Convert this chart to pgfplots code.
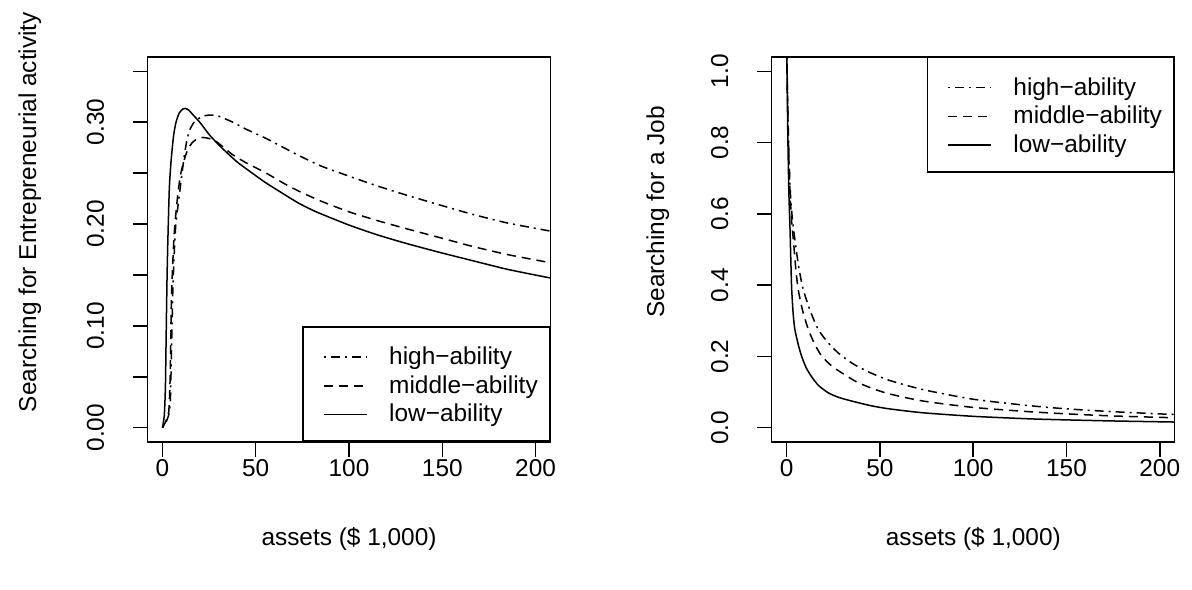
\documentclass[border=0pt]{standalone}
\usepackage{fontspec}
\setmainfont{Liberation Sans}
\usepackage{pgfplots}
\pgfplotsset{compat=1.18}
\newcommand{\rfont}{\fontsize{24.4bp}{29bp}\selectfont}

\pgfplotsset{
  rplot/.style={
    scale only axis, width=403bp, height=385bp,
    xmin=-8, xmax=208,
    axis line style={line width=1.5bp},
    tick align=outside, xtick pos=bottom, ytick pos=left,
    major tick length=14.6bp,
    tick style={black, line width=1.5bp},
    ticklabel style={font=\rfont, inner sep=0pt},
    xtick={0,50,100,150,200},
    xticklabels={0,50,100,150,200},
    xticklabel style={anchor=north},
    xticklabel shift=3bp,
    yticklabel style={rotate=90, anchor=base},
    yticklabel shift=29bp,
    legend style={draw=black, line width=1.5bp, fill=white,
      inner xsep=12bp, inner ysep=14bp, row sep=0pt, column sep=0pt,
      font=\rfont,
      nodes={inner sep=0pt, text height=23.3bp, text depth=5.4bp, anchor=base west}},
    legend cell align=left,
    legend image code/.code={
      \path[draw=none, fill=none] (0bp,0bp) rectangle (74bp,7.3bp);
      \draw[##1, line width=1.5bp] (9bp,7.3bp) -- (52bp,7.3bp);},
    every axis plot/.append style={smooth, tension=0.4},
  },
  lo/.style={black, line width=1.5bp, solid},
  mid/.style={black, line width=1.5bp, dash pattern=on 9bp off 6bp},
  hi/.style={black, line width=1.5bp, dash pattern=on 2bp off 5bp on 9bp off 5bp},
}

% left panel: entrepreneurial activity
\pgfplotstableread{
x y
0 0
1 0.012
1.6 0.04
2.0 0.09
2.5 0.15
3 0.19
3.7 0.235
4.6 0.261
6 0.287
7.3 0.300
9 0.309
11 0.313
12.2 0.3135
14 0.312
17 0.306
20 0.300
25 0.288
30 0.278
34 0.271
40 0.261
46.6 0.252
55 0.241
64.5 0.230
73 0.2205
82.4 0.212
100 0.199
115 0.1895
130.6 0.181
150 0.1715
166.3 0.164
185 0.1555
208 0.147
215 0.145
}\entlow
\pgfplotstableread{
x y
0 0
1.5 0.005
2.5 0.010
3.4 0.016
4.0 0.04
4.4 0.08
4.8 0.125
5.5 0.16
6.3 0.19
7.3 0.212
8.5 0.233
10 0.251
12 0.265
13.6 0.273
16 0.280
19 0.284
21.6 0.285
25 0.284
28.8 0.281
33 0.275
37.7 0.268
45 0.260
55.6 0.250
65 0.240
73.4 0.232
85 0.2225
100 0.212
115 0.2035
130.6 0.1955
150 0.186
166.3 0.178
185 0.170
208 0.162
215 0.160
}\entmid
\pgfplotstableread{
x y
0 0
1.5 0.004
2.5 0.008
3.7 0.015
4.3 0.03
4.8 0.07
5.5 0.13
6.3 0.17
7.2 0.20
9.1 0.229
10.5 0.25
11.8 0.268
13 0.281
14.5 0.292
17 0.300
19.8 0.304
22 0.306
25.2 0.307
30 0.306
37.7 0.300
45 0.293
55.6 0.284
65 0.275
73.4 0.267
85 0.257
100 0.247
115 0.2375
130.6 0.2285
150 0.218
166.3 0.2095
185 0.201
208 0.193
215 0.190
}\enthigh

% right panel: job search
\pgfplotstableread{
x y
0 1.1
0.3 0.95
0.7 0.80
1.2 0.66
1.8 0.56
2.3 0.46
2.7 0.39
3.5 0.32
4.4 0.276
6.2 0.234
8 0.201
10.5 0.168
13.4 0.143
17 0.119
22.3 0.098
28 0.085
34.8 0.075
45 0.062
55 0.053
73 0.042
100 0.032
130 0.025
150 0.022
175 0.019
208 0.016
215 0.0155
}\joblow
\pgfplotstableread{
x y
0 1.1
0.5 0.92
1.2 0.75
2.0 0.64
2.8 0.57
3.6 0.528
5 0.44
6.2 0.388
8.5 0.33
11.6 0.276
15 0.235
18.8 0.201
24 0.174
29.5 0.154
37 0.13
45 0.112
55 0.095
73 0.075
100 0.057
130 0.045
150 0.039
175 0.033
208 0.028
215 0.027
}\jobmid
\pgfplotstableread{
x y
0 1.1
0.5 0.93
1.2 0.77
2.0 0.66
3 0.59
4.4 0.528
6.5 0.45
8.9 0.388
12.5 0.33
16.9 0.276
22 0.24
27.6 0.21
36 0.178
45 0.154
55 0.133
73 0.107
100 0.080
130 0.062
150 0.053
175 0.045
208 0.037
215 0.036
}\jobhigh

\begin{document}
\begin{tikzpicture}
\path (0bp,0bp) rectangle (1192bp,590bp);

\begin{axis}[rplot, at={(147.5bp,148bp)}, anchor=south west,
    ymin=-0.014, ymax=0.364,
    ytick={0,0.05,0.10,0.15,0.20,0.25,0.30,0.35},
    yticklabels={0.00,,0.10,,0.20,,0.30,},
    legend style={at={(1,0)}, anchor=south east}]
  \addplot[hi] table[x=x,y=y] {\enthigh};
  \addplot[mid] table[x=x,y=y] {\entmid};
  \addplot[lo] table[x=x,y=y] {\entlow};
  \legend{high−ability, middle−ability, low−ability}
\end{axis}

\begin{axis}[rplot, at={(771.7bp,148bp)}, anchor=south west,
    ymin=-0.04, ymax=1.04,
    ytick={0,0.2,0.4,0.6,0.8,1.0},
    yticklabels={0.0,0.2,0.4,0.6,0.8,1.0},
    legend style={at={(1,1)}, anchor=north east}]
  \addplot[hi] table[x=x,y=y] {\jobhigh};
  \addplot[mid] table[x=x,y=y] {\jobmid};
  \addplot[lo] table[x=x,y=y] {\joblow};
  \legend{high−ability, middle−ability, low−ability}
\end{axis}

\node[font=\rfont, anchor=base] at (349bp,44bp) {assets (\$ 1,000)};
\node[font=\rfont, anchor=base] at (973.3bp,44bp) {assets (\$ 1,000)};
\node[font=\rfont, anchor=base, rotate=90] at (36bp,378bp) {Searching for Entrepreneurial activity};
\node[font=\rfont, anchor=base, rotate=90] at (664bp,378bp) {Searching for a Job};
\end{tikzpicture}
\end{document}
